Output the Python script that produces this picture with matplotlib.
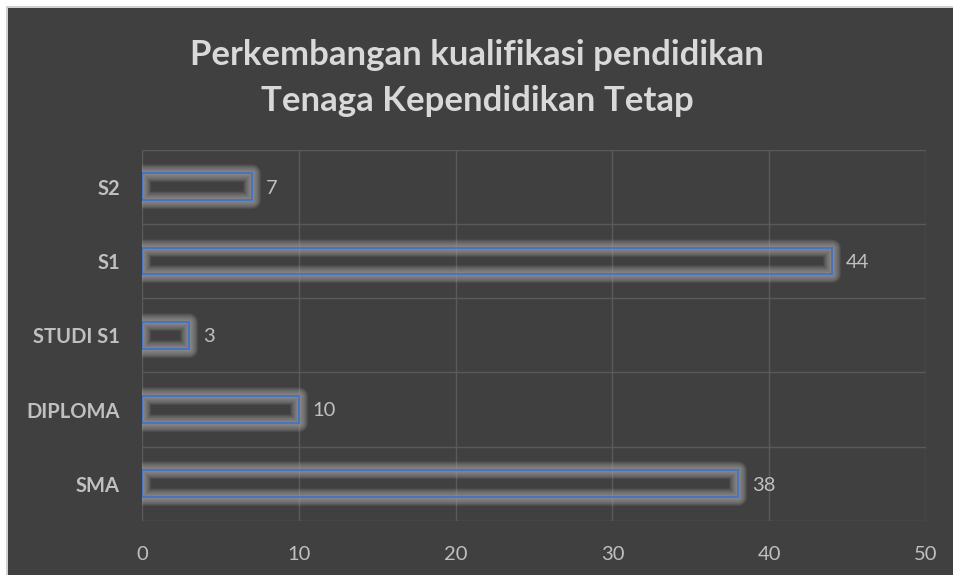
import matplotlib
matplotlib.use("Agg")
import matplotlib.pyplot as plt
from matplotlib.patches import Rectangle

categories = ["SMA", "DIPLOMA", "STUDI S1", "S1", "S2"]
values = [38, 10, 3, 44, 7]
xticks = [0, 10, 20, 30, 40, 50]
title = "Perkembangan kualifikasi pendidikan\nTenaga Kependidikan Tetap"

bg = "#404040"
txt = "#c0c0c0"
grid = "#5a5a5a"

plt.rcParams["font.family"] = ["Lato", "DejaVu Sans"]

fig = plt.figure(figsize=(9.54, 5.75), dpi=100, facecolor=bg)
# white strip along the left and top edge
fig.patches.append(Rectangle((0, 0), 7 / 954, 1, transform=fig.transFigure,
                             facecolor="white", edgecolor="none", zorder=0))
fig.patches.append(Rectangle((0, 1 - 7 / 575), 1, 7 / 575, transform=fig.transFigure,
                             facecolor="white", edgecolor="none", zorder=0))
fig.patches.append(Rectangle((6 / 954, 0), 1.5 / 954, 1 - 6 / 575, transform=fig.transFigure,
                             facecolor="#d0d0d0", edgecolor="none", zorder=0))
fig.patches.append(Rectangle((6 / 954, 1 - 7.5 / 575), 1, 1.5 / 575, transform=fig.transFigure,
                             facecolor="#d0d0d0", edgecolor="none", zorder=0))

ax = fig.add_axes([142 / 954, 1 - 521 / 575, 784 / 954, 371.5 / 575])
ax.set_facecolor(bg)

y = list(range(len(categories)))
h = 0.36

# soft glow around each bar
n = 22
for i in range(n):
    lw = 13 - i * 12.5 / n
    ax.barh(y, values, height=h, color="none", edgecolor="#a8a8a8",
            linewidth=lw, alpha=0.06, joinstyle="round", zorder=2)
ax.barh(y, values, height=h, color="none", edgecolor="#4472c4",
        linewidth=1.3, zorder=3)

for yi, v in zip(y, values):
    ax.annotate(str(v), (v, yi), xytext=(10, -1), textcoords="offset points",
                va="center", ha="left", color=txt, fontsize=14.5)

ax.set_xlim(0, 50)
ax.set_ylim(-0.5, len(categories) - 0.5)
ax.set_xticks(xticks)
ax.set_yticks(y)
ax.set_yticklabels(categories, fontweight="bold")
ax.set_yticks([i - 0.5 for i in range(len(categories) + 1)], minor=True)
ax.tick_params(axis="both", length=0, colors=txt, labelsize=14.5)
ax.tick_params(axis="x", pad=18)
ax.tick_params(axis="y", pad=16)
ax.tick_params(which="minor", length=0)
ax.grid(axis="x", which="major", color=grid, linewidth=1)
ax.grid(axis="y", which="minor", color=grid, linewidth=1)
ax.set_axisbelow(True)
for s in ax.spines.values():
    s.set_visible(False)

fig.text(0.5, 1 - 78 / 575, title, ha="center", va="center", color="#d9d9d9",
         fontsize=25, fontweight="bold", linespacing=1.55)

fig.savefig("out.png", dpi=100, facecolor=bg)
